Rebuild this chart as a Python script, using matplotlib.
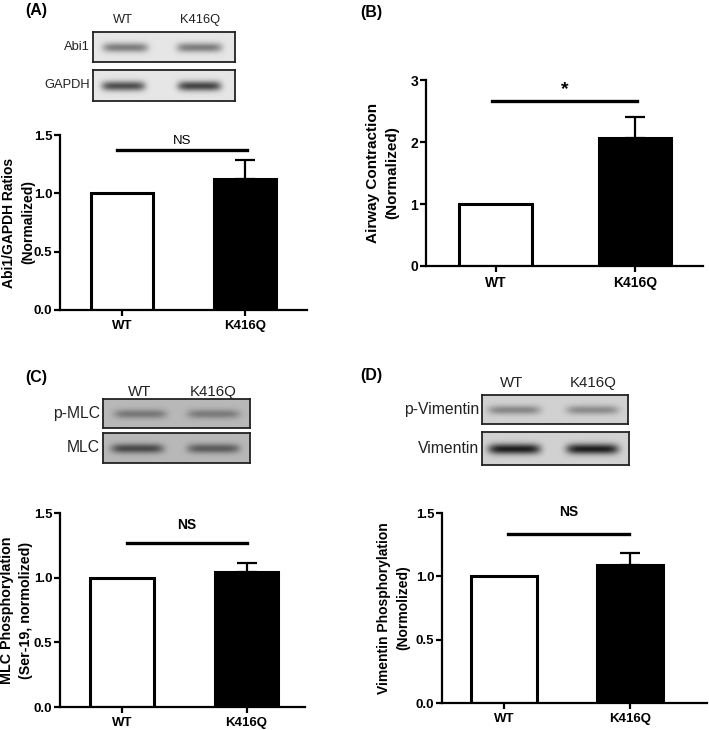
import numpy as np
import matplotlib
matplotlib.use("Agg")
import matplotlib.pyplot as plt

plt.rcParams['font.family'] = ['Liberation Sans', 'DejaVu Sans']

# ---------------- data ----------------
groups = ["WT", "K416Q"]

a_values = [1.0, 1.12]
a_err = [0.0, 0.17]
a_yticks = [0.0, 0.5, 1.0, 1.5]

b_values = [1.0, 2.07]
b_err = [0.0, 0.34]
b_yticks = [0, 1, 2, 3]

c_values = [1.0, 1.045]
c_err = [0.0, 0.07]
c_yticks = [0.0, 0.5, 1.0, 1.5]

d_values = [1.0, 1.09]
d_err = [0.0, 0.095]
d_yticks = [0.0, 0.5, 1.0, 1.5]

# blot band darkness (0 = none, 1 = black) per lane
blot_a_abi1 = [0.45, 0.45]
blot_a_gapdh = [0.65, 0.7]
blot_c_pmlc = [0.35, 0.33]
blot_c_mlc = [0.6, 0.5]
blot_d_pvim = [0.35, 0.33]
blot_d_vim = [0.85, 0.85]

W, H = 709, 730
fig = plt.figure(figsize=(W / 100, H / 100), dpi=100)


def px_axes(x0, y0, x1, y1):
    return fig.add_axes([x0 / W, 1 - y1 / H, (x1 - x0) / W, (y1 - y0) / H])


def blot(x0, y0, x1, y1, bg, levels, lanes_px, bw, label, label_size):
    ax = px_axes(x0, y0, x1, y1)
    w, h = int(x1 - x0), int(y1 - y0)
    xx = np.arange(w)[None, :]
    yy = np.arange(h)[:, None]
    img = np.full((h, w), bg, dtype=float)
    for lev, lx in zip(levels, lanes_px):
        cx = lx - x0
        prof_x = np.exp(-((xx - cx) / (bw / 2.3)) ** 6)
        prof_y = np.exp(-((yy - h * 0.5) / (h * 0.16)) ** 2)
        img = img - lev * bg * prof_x * prof_y
    ax.imshow(img, cmap="gray", vmin=0, vmax=1, aspect="auto",
              interpolation="bilinear")
    ax.set_xticks([])
    ax.set_yticks([])
    for s in ax.spines.values():
        s.set_linewidth(1.3)
        s.set_color("#222222")
    fig.text((x0 - 3) / W, 1 - ((y0 + y1) / 2) / H, label, ha="right",
             va="center", fontsize=label_size, color="#222222")
    return ax


def bar_panel(rect, values, err, yticks, ylim, xlim, width, ylabel, fmt,
              sig_x, sig_y, sig_text, sig_text_y, sig_bold, sig_size,
              tick_size, label_size, label_x):
    x0, y0, x1, y1 = rect
    ax = px_axes(x0, y0, x1, y1)
    xpos = np.arange(len(values))
    ax.bar(xpos, values, width=width, color=["white", "black"],
           edgecolor="black", linewidth=2.2, zorder=2)
    for xp, v, e in zip(xpos, values, err):
        if e > 0:
            ax.errorbar([xp], [v], yerr=[[0], [e]], fmt="none",
                        ecolor="black", elinewidth=1.6, capsize=7,
                        capthick=1.6, zorder=1)
    ax.set_xlim(*xlim)
    ax.set_ylim(*ylim)
    ax.set_yticks(yticks)
    ax.set_yticklabels([fmt.format(v) for v in yticks], fontsize=tick_size,
                       fontweight="bold")
    ax.set_xticks(xpos)
    ax.set_xticklabels(groups, fontsize=tick_size, fontweight="bold")
    for s in ["top", "right"]:
        ax.spines[s].set_visible(False)
    for s in ["left", "bottom"]:
        ax.spines[s].set_linewidth(1.6)
    ax.tick_params(axis="both", direction="out", width=1.6, length=4.5,
                   pad=1)
    ax.tick_params(axis="x", pad=3)
    ax.set_ylabel(ylabel, fontsize=label_size, fontweight="bold",
                  linespacing=1.42)
    ax.yaxis.set_label_coords((label_x - x0) / (x1 - x0), 0.5)
    ax.plot(sig_x, [sig_y, sig_y], color="black", lw=2.4, clip_on=False)
    ax.text(np.mean(sig_x), sig_text_y, sig_text, ha="center", va="center",
            fontsize=sig_size, fontweight="bold" if sig_bold else "normal",
            clip_on=False)
    return ax


# ---------------- Panel A ----------------
fig.text(25 / W, 1 - 11 / H, "(A)", fontsize=11.5, fontweight="bold",
         ha="left", va="center")
fig.text(123 / W, 1 - 20 / H, "WT", fontsize=9.3, ha="center", va="center",
         color="#222222")
fig.text(200 / W, 1 - 20 / H, "K416Q", fontsize=9.3, ha="center",
         va="center", color="#222222")
blot(93, 32, 235, 62, 0.9, blot_a_abi1, [125, 199], 52, "Abi1", 9.3)
blot(93, 70, 235, 101, 0.9, blot_a_gapdh, [123, 199], 50, "GAPDH", 9.3)
bar_panel((60, 135, 307, 310), a_values, a_err, a_yticks, (0, 1.5),
          (-0.5, 1.5), 0.5, "Abi1/GAPDH Ratios\n(Normalized)", "{:.1f}",
          [-0.04, 1.016], 1.37, "NS", 1.45, False, 9.5, 9.5, 10, 35)

# ---------------- Panel B ----------------
fig.text(360 / W, 1 - 12 / H, "(B)", fontsize=11.5, fontweight="bold",
         ha="left", va="center")
bar_panel((426, 80, 703, 266), b_values, b_err, b_yticks, (0, 3),
          (-0.5, 1.49), 0.52, "Airway Contraction\n(Normalized)", "{:d}",
          [-0.025, 1.018], 2.66, "*", 2.84, True, 14, 10, 11, 399)

# ---------------- Panel C ----------------
fig.text(25 / W, 1 - 377 / H, "(C)", fontsize=11.5, fontweight="bold",
         ha="left", va="center")
fig.text(140 / W, 1 - 392 / H, "WT", fontsize=10.8, ha="center",
         va="center", color="#222222")
fig.text(213 / W, 1 - 392 / H, "K416Q", fontsize=10.8, ha="center",
         va="center", color="#222222")
blot(103, 399, 250, 428, 0.72, blot_c_pmlc, [140, 213], 60, "p-MLC", 11.3)
blot(103, 433, 250, 463, 0.72, blot_c_mlc, [137, 213], 60, "MLC", 11.3)
bar_panel((60, 513, 305, 707), c_values, c_err, c_yticks, (0, 1.5),
          (-0.5, 1.47), 0.51, "MLC Phosphorylation\n(Ser-19, normolized)",
          "{:.1f}", [0.04, 1.0], 1.266, "NS", 1.41, True, 10, 9.5, 10.3, 33)

# ---------------- Panel D ----------------
fig.text(360 / W, 1 - 375 / H, "(D)", fontsize=11.5, fontweight="bold",
         ha="left", va="center")
fig.text(512 / W, 1 - 383 / H, "WT", fontsize=10.8, ha="center",
         va="center", color="#222222")
fig.text(593 / W, 1 - 383 / H, "K416Q", fontsize=10.8, ha="center",
         va="center", color="#222222")
blot(482, 395, 628, 424, 0.82, blot_d_pvim, [514, 592], 60, "p-Vimentin",
     11.3)
blot(482, 432, 629, 465, 0.82, blot_d_vim, [514, 592], 60, "Vimentin", 11.3)
bar_panel((442, 513, 707, 703), d_values, d_err, d_yticks, (0, 1.5),
          (-0.49, 1.61), 0.52, "Vimentin Phosphorylation\n(Normolized)",
          "{:.1f}", [0.036, 0.99], 1.337, "NS", 1.51, True, 10, 9.5, 10, 410)

fig.savefig("out.png", dpi=100, facecolor="white")
